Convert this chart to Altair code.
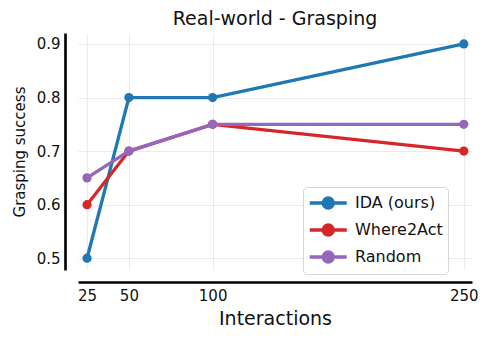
import altair as alt
import pandas as pd

interactions = [25, 50, 100, 250]
series_names = ["IDA (ours)", "Where2Act", "Random"]
ida = [0.5, 0.8, 0.8, 0.9]
where2act = [0.6, 0.7, 0.75, 0.7]
random_ = [0.65, 0.7, 0.75, 0.75]
colors = ["#1f77b4", "#d62728", "#9467bd"]
x_ticks = [25, 50, 100, 250]
y_ticks = [0.5, 0.6, 0.7, 0.8, 0.9]

rows = []
for name, vals in zip(series_names, [ida, where2act, random_]):
    for x, v in zip(interactions, vals):
        rows.append({"Interactions": x, "Success": v, "Method": name})
df = pd.DataFrame(rows)

FONT = "DejaVu Sans"
xscale = alt.Scale(domain=[19.6, 254.9], nice=False, zero=False)
yscale = alt.Scale(domain=[0.478, 0.9205], nice=False, zero=False)
cscale = alt.Scale(domain=series_names, range=colors)

legend = alt.Legend(
    title=None, orient="none", legendX=225, legendY=154,
    symbolType="M-1,0H3M0.46,0A0.54,0.54,0,1,0,1.54,0A0.54,0.54,0,1,0,0.46,0Z",
    symbolSize=342, symbolStrokeWidth=3.3, labelFontSize=16, labelFont=FONT,
    labelColor="#111", rowPadding=3, padding=5, cornerRadius=4,
    strokeColor="#d5d5d5", fillColor="rgba(255,255,255,0.8)", symbolOpacity=1,
    labelOffset=25,
)

xaxis = alt.Axis(values=x_ticks, title="Interactions", titleFontSize=19, titleFont=FONT,
                 titleFontWeight="normal", titleColor="#111", titlePadding=6,
                 labelFontSize=15, labelFont=FONT, labelColor="#111", labelPadding=6,
                 ticks=False, domainColor="black", domainWidth=2.6, offset=12,
                 grid=True, gridColor="#ebebeb", gridWidth=1, labelFlush=False)
yaxis = alt.Axis(values=y_ticks, title="Grasping success", titleFontSize=15, titleFont=FONT,
                 titleFontWeight="normal", titleColor="#111", titlePadding=9,
                 labelFontSize=15, labelFont=FONT, labelColor="#111", labelPadding=5,
                 ticks=False, domainColor="black", domainWidth=2.6, offset=13,
                 grid=True, gridColor="#ebebeb", gridWidth=1, format=".1f")

layers = []
for i, name in enumerate(series_names):
    base = alt.Chart(df).transform_filter(alt.datum.Method == name)
    enc = dict(
        x=alt.X("Interactions:Q", scale=xscale, axis=xaxis),
        y=alt.Y("Success:Q", scale=yscale, axis=yaxis),
        color=alt.Color("Method:N", scale=cscale, legend=legend),
    )
    line = base.mark_line(strokeWidth=3.3).encode(**enc)
    pts = base.mark_point(filled=True, size=85, opacity=1).encode(**enc)
    layers += [line, pts]

chart = alt.layer(*layers).properties(
    width=394, height=237,
    title=alt.TitleParams("Real-world - Grasping", fontSize=19, font=FONT,
                          fontWeight="normal", color="#111", offset=4),
    padding={"left": 70, "top": 25, "right": 9, "bottom": 62},
    autosize=alt.AutoSizeParams(type="none"),
).configure_view(stroke=None)

chart.save("out.html", embed_options={"renderer": "svg", "actions": False})
